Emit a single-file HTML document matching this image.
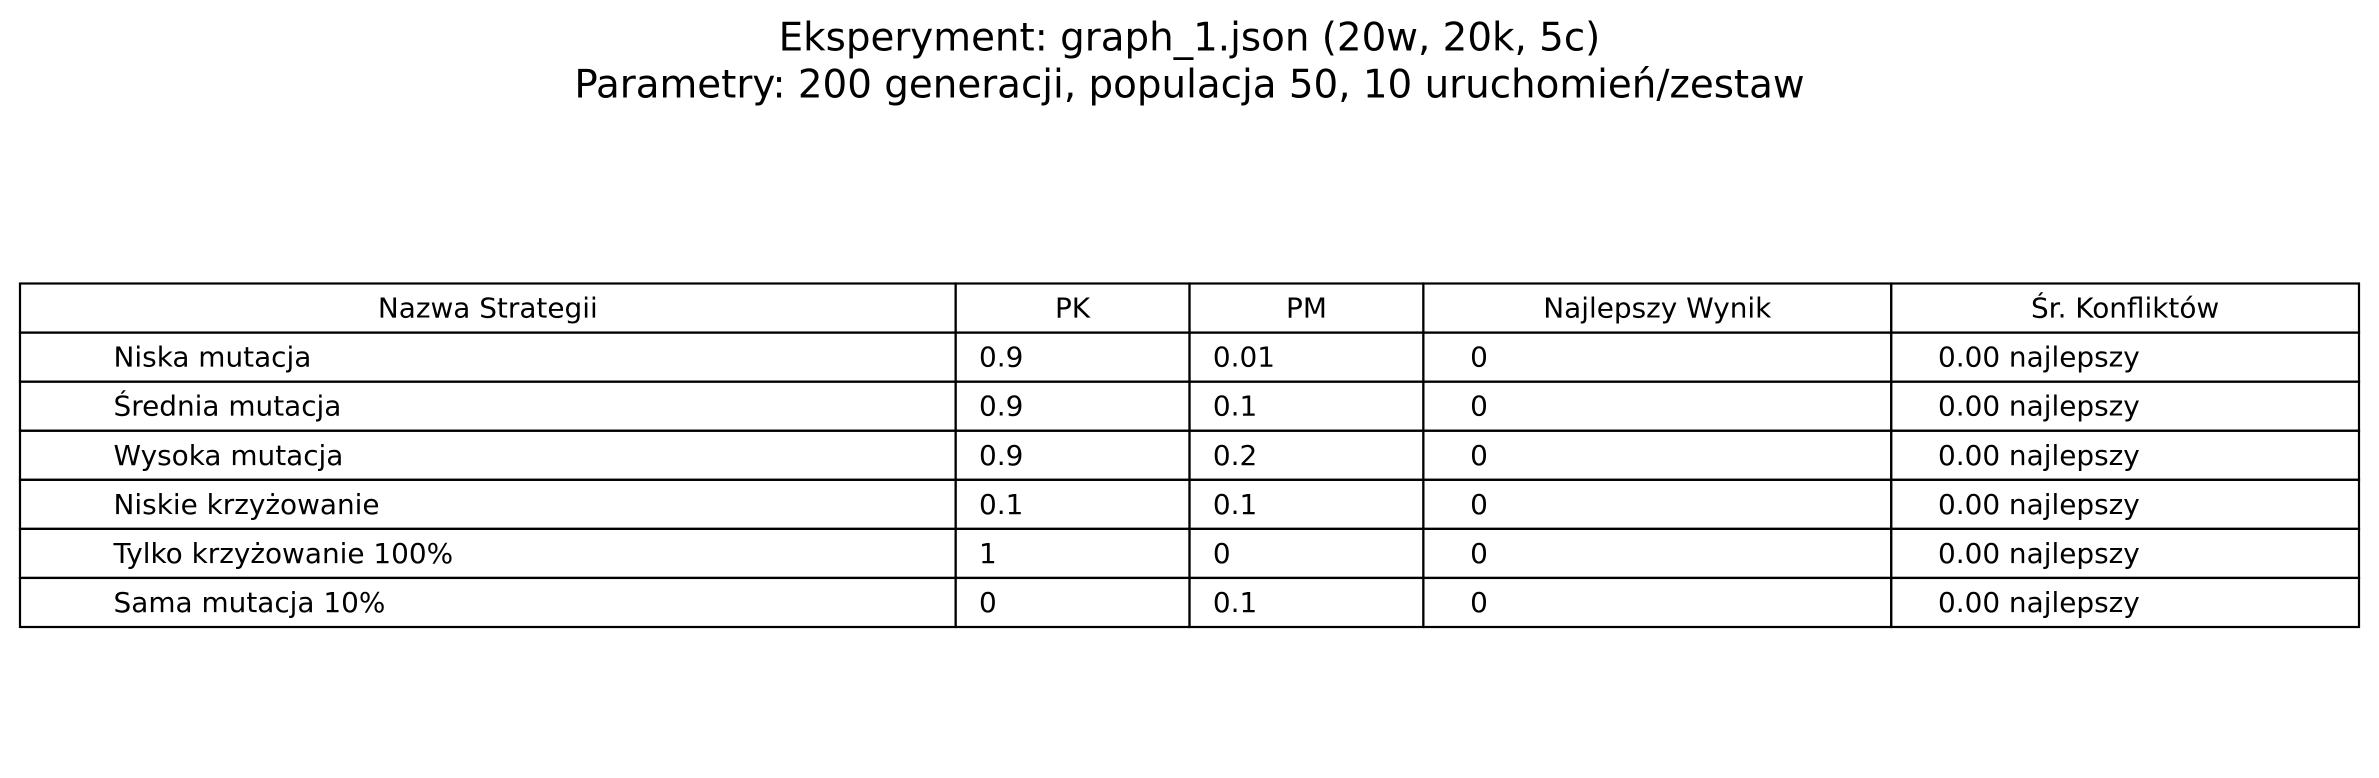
<!DOCTYPE html>
<html><head><meta charset="utf-8"><style>
html,body{margin:0;padding:0;background:#fff;}
svg{display:block;}
text{font-family:"DejaVu Sans","Liberation Sans",sans-serif;fill:#000;}
</style></head><body>
<svg id="chart" width="2379" height="778" viewBox="0 0 2379 778" xmlns="http://www.w3.org/2000/svg">
<text x="1189.5" y="38" font-size="38.8" text-anchor="middle" dominant-baseline="central">Eksperyment: graph_1.json (20w, 20k, 5c)</text>
<text x="1189.5" y="85" font-size="38.8" text-anchor="middle" dominant-baseline="central">Parametry: 200 generacji, populacja 50, 10 uruchomień/zestaw</text>
<g id="tbl"></g>
</svg>
<script>
const headers = ["Nazwa Strategii","PK","PM","Najlepszy Wynik","Śr. Konfliktów"];
const strategies = ["Niska mutacja","Średnia mutacja","Wysoka mutacja","Niskie krzyżowanie","Tylko krzyżowanie 100%","Sama mutacja 10%"];
const pk = ["0.9","0.9","0.9","0.1","1","0"];
const pm = ["0.01","0.1","0.2","0.1","0","0.1"];
const best = ["0","0","0","0","0","0"];
const avgConf = ["0.00 najlepszy","0.00 najlepszy","0.00 najlepszy","0.00 najlepszy","0.00 najlepszy","0.00 najlepszy"];
const colFrac = [0.4,0.1,0.1,0.2,0.2];

const NS="http://www.w3.org/2000/svg";
const g=document.getElementById('tbl');
const X0=20, W=2339, Y0=283.5, Y1=627;
const nRows=strategies.length+1;
const rh=(Y1-Y0)/nRows;
const colX=[X0]; colFrac.forEach(f=>colX.push(colX[colX.length-1]+f*W));
function mk(tag,attrs){const e=document.createElementNS(NS,tag);for(const k in attrs)e.setAttribute(k,attrs[k]);g.appendChild(e);return e;}
const cols=[strategies,pk,pm,best,avgConf];
for(let r=0;r<nRows;r++){
  for(let c=0;c<headers.length;c++){
    const x=colX[c], w=colX[c+1]-colX[c], y=Y0+r*rh;
    const rect=mk('rect',{x:x,y:y,width:w,height:rh,fill:'none',stroke:'#000','stroke-width':2.2});
    
    
    let t;
    if(r===0){
      t=mk('text',{x:x+w/2,y:y+rh/2,'font-size':27.9,'text-anchor':'middle','dominant-baseline':'central'});
      t.textContent=headers[c];
      
      
    } else {
      t=mk('text',{x:x+0.1*w,y:y+rh/2,'font-size':27.9,'dominant-baseline':'central'});
      t.textContent=cols[c][r-1];
      
      
    }
  }
}
</script>
</body></html>
